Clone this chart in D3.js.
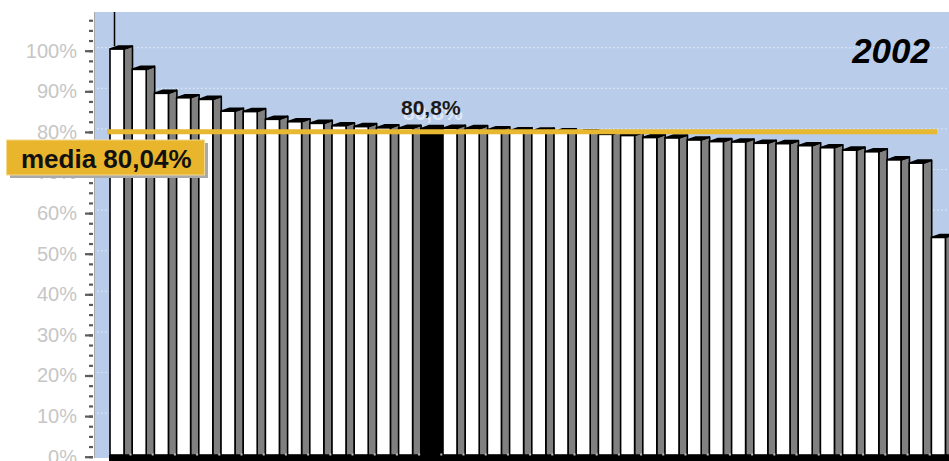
<!DOCTYPE html>
<html>
<head>
<meta charset="utf-8">
<script src="https://cdn.jsdelivr.net/npm/d3@7"></script>
<style>
  html, body { margin: 0; padding: 0; background: #ffffff; }
  svg { display: block; }
</style>
</head>
<body>
<div id="chart"></div>
<script>
// Data (sorted descending)
const categories = d3.range(1, 39).map(String);
const values = [
  100.4, 95.4, 89.5, 88.4, 88.0, 85.1, 85.0, 83.1, 82.5, 82.1,
  81.5, 81.3, 81.0, 80.9, 80.8, 80.9, 80.8, 80.5, 80.3, 80.2,
  80.0, 79.8, 79.4, 79.1, 78.6, 78.5, 78.0, 77.6, 77.5, 77.2,
  77.1, 76.6, 76.1, 75.5, 75.1, 73.1, 72.3, 54.0
];
const highlightIndex = 14;
const highlightLabel = '80,8%';
const meanValue = 80.04;
const meanLabel = 'media 80,04%';
const yearLabel = '2002';
const majorTicks = d3.range(0, 101, 10);
const minorTicks = d3.range(0, 110, 2.5);

const W = 949, H = 461;
const plot = { left: 95, top: 12, right: W, bottom: 458 };
const base = 455;          // front edge of the floor
const depth = { dx: 8.5, dy: -3 };
const frontW = 14;

const svg = d3.select('#chart').append('svg')
  .attr('width', W)
  .attr('height', H)
  .style('font-family', '"Liberation Sans", Arial, sans-serif');

// Scales
const y = d3.scaleLinear().domain([0, 100]).range([456.7, 50.7]);
const x = d3.scaleBand()
  .domain(categories)
  .range([110, 110 + categories.length * 22.2])
  .padding(0);

// Plot background
svg.append('rect')
  .attr('x', plot.left)
  .attr('y', plot.top)
  .attr('width', plot.right - plot.left)
  .attr('height', plot.bottom - plot.top)
  .attr('fill', '#b9cdea');

svg.append('line')
  .attr('x1', plot.left - 0.5).attr('x2', plot.left - 0.5)
  .attr('y1', plot.top).attr('y2', plot.bottom)
  .attr('stroke', '#a8a8a8')
  .attr('stroke-width', 1);

// Back wall gridlines (shifted by depth)
svg.append('g')
  .selectAll('line')
  .data(majorTicks.filter(d => d > 0))
  .join('line')
  .attr('x1', plot.left + 2)
  .attr('x2', plot.right)
  .attr('y1', d => y(d) + depth.dy)
  .attr('y2', d => y(d) + depth.dy)
  .attr('stroke', '#e4e8ee')
  .attr('stroke-width', 1.2)
  .attr('stroke-dasharray', '1.5,2.5');

// Y axis: minor ticks, then major ticks with labels
const minorAxis = svg.append('g')
  .attr('transform', `translate(${plot.left - 2},0)`)
  .call(d3.axisLeft(y).tickValues(minorTicks).tickSize(4).tickFormat(''));
minorAxis.select('.domain').remove();
minorAxis.selectAll('line').attr('stroke', '#5a5a5a').attr('stroke-width', 2.2);

const majorAxis = svg.append('g')
  .attr('transform', `translate(${plot.left - 2},0)`)
  .call(d3.axisLeft(y).tickValues(majorTicks).tickSize(8).tickPadding(8)
    .tickFormat(d => d + '%'));
majorAxis.select('.domain').remove();
majorAxis.selectAll('line').attr('stroke', '#5a5a5a').attr('stroke-width', 2.2);
majorAxis.selectAll('text')
  .attr('fill', '#c6c6c6')
  .attr('font-size', '20px')
  .style('font-family', '"Liberation Sans", Arial, sans-serif');

// Stray line above the first bar
svg.append('line')
  .attr('x1', x(categories[0]) + 4.5).attr('x2', x(categories[0]) + 4.5)
  .attr('y1', plot.top)
  .attr('y2', y(values[0]) + depth.dy)
  .attr('stroke', '#000')
  .attr('stroke-width', 1.5);

// 3D bars
const bars = svg.append('g')
  .selectAll('g.bar')
  .data(values.map((v, i) => ({ cat: categories[i], v, i })))
  .join('g')
  .attr('class', 'bar');

const isHi = d => d.i === highlightIndex;

// side face
bars.append('polygon')
  .attr('points', d => {
    const b = x(d.cat), t = y(d.v);
    return [[b + frontW, t], [b + frontW + depth.dx, t + depth.dy],
            [b + frontW + depth.dx, base], [b + frontW, base]].join(' ');
  })
  .attr('fill', d => isHi(d) ? '#000' : '#808080')
  .attr('stroke', '#000')
  .attr('stroke-width', 1.6)
  .attr('stroke-linejoin', 'round');

// top face
bars.append('polygon')
  .attr('points', d => {
    const b = x(d.cat), t = y(d.v);
    return [[b, t], [b + depth.dx, t + depth.dy],
            [b + frontW + depth.dx, t + depth.dy], [b + frontW, t]].join(' ');
  })
  .attr('fill', '#000')
  .attr('stroke', '#000')
  .attr('stroke-width', 1.6);

// front face
bars.append('rect')
  .attr('x', d => x(d.cat))
  .attr('y', d => y(d.v))
  .attr('width', frontW)
  .attr('height', d => base - y(d.v))
  .attr('fill', d => isHi(d) ? '#000' : '#ffffff')
  .attr('stroke', '#000')
  .attr('stroke-width', 1.6);

// Floor edge
svg.append('rect')
  .attr('x', x(categories[0]) - 1)
  .attr('y', base)
  .attr('width', plot.right - x(categories[0]) + 1)
  .attr('height', H - base)
  .attr('fill', '#000');

svg.append('g')
  .selectAll('rect')
  .data(categories.slice(0, -1))
  .join('rect')
  .attr('x', d => x(d) + 19.5)
  .attr('y', 453.5)
  .attr('width', 2)
  .attr('height', 2)
  .attr('fill', '#bbbbbb');

// Highlighted bar label
const hx = x(categories[highlightIndex]) + 10;
const hy = y(values[highlightIndex]) - 14;
svg.append('text')
  .attr('x', hx + 2)
  .attr('y', hy + 5)
  .attr('text-anchor', 'middle')
  .attr('font-size', '21px')
  .attr('font-weight', 'bold')
  .attr('fill', '#ffffff')
  .attr('opacity', 0.55)
  .text(highlightLabel);
svg.append('text')
  .attr('x', hx)
  .attr('y', hy)
  .attr('text-anchor', 'middle')
  .attr('font-size', '21px')
  .attr('font-weight', 'bold')
  .attr('fill', '#1a1a1a')
  .text(highlightLabel);

// Mean line
svg.append('line')
  .attr('x1', 107)
  .attr('x2', 937)
  .attr('y1', y(meanValue))
  .attr('y2', y(meanValue))
  .attr('stroke', '#e8b830')
  .attr('stroke-width', 5);

// Mean label box with shadow
svg.append('rect')
  .attr('x', 10).attr('y', 143)
  .attr('width', 198).attr('height', 35)
  .attr('fill', '#a9a9a9');
svg.append('rect')
  .attr('x', 6.5).attr('y', 140)
  .attr('width', 198).attr('height', 35)
  .attr('fill', '#e8b52c')
  .attr('stroke', '#f3d890')
  .attr('stroke-width', 1);
svg.append('text')
  .attr('x', 21)
  .attr('y', 168)
  .attr('font-size', '26px')
  .attr('font-weight', 'bold')
  .attr('fill', '#111')
  .text(meanLabel);

// Year
svg.append('text')
  .attr('x', 930)
  .attr('y', 63)
  .attr('text-anchor', 'end')
  .attr('font-size', '35px')
  .attr('font-weight', 'bold')
  .attr('font-style', 'italic')
  .attr('fill', '#000')
  .text(yearLabel);
</script>
</body>
</html>
